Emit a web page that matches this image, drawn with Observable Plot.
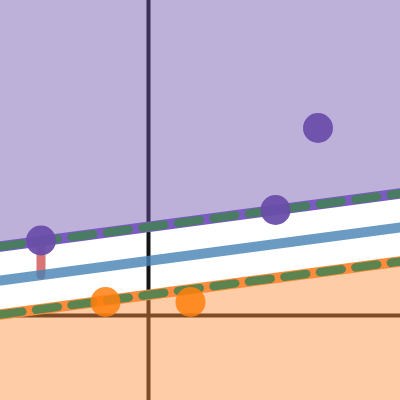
<!DOCTYPE html>
<html>
<head>
<meta charset="utf-8">
<script src="https://cdn.jsdelivr.net/npm/d3@7"></script>
<script src="https://cdn.jsdelivr.net/npm/@observablehq/plot@0.6"></script>
<style>
  html, body { margin: 0; padding: 0; background: white; overflow: hidden; }
  #chart svg { display: block; }
</style>
</head>
<body>
<div id="chart"></div>
<script>
// Domains
const xDomain = [-2.96, 5.04];
const yDomain = [-1.7, 6.3];

// Decision boundary and margins, read at the left and right edges
const xEnds = [-2.96, 5.04];
const upperY = [1.38, 2.44];
const centerY = [0.70, 1.76];
const lowerY = [0.02, 1.08];

// Points
const purpleX = [-2.15, 2.54, 3.39];
const purpleY = [1.50, 2.11, 3.75];
const orangeX = [-0.86, 0.84];
const orangeY = [0.27, 0.27];

// Slack segment (from point to boundary)
const slackX = [-2.15];
const slackY1 = [1.50];
const slackY2 = [0.80];

const lines = xEnds.map((x, i) => ({x, upper: upperY[i], center: centerY[i], lower: lowerY[i], top: yDomain[1], bottom: yDomain[0]}));
const purplePts = purpleX.map((x, i) => ({x, y: purpleY[i]}));
const orangePts = orangeX.map((x, i) => ({x, y: orangeY[i]}));
const slack = slackX.map((x, i) => ({x, y1: slackY1[i], y2: slackY2[i]}));

const dash = "22,13.8";

const chart = Plot.plot({
  width: 400,
  height: 400,
  margin: 0,
  x: {domain: xDomain, axis: null},
  y: {domain: yDomain, axis: null},
  marks: [
    Plot.ruleX([0], {stroke: "#141414", strokeWidth: 4}),
    Plot.ruleY([0], {stroke: "#141414", strokeWidth: 4}),
    Plot.areaY(lines, {x: "x", y1: "upper", y2: "top", fill: "#6f54ae", fillOpacity: 0.455}),
    Plot.areaY(lines, {x: "x", y1: "bottom", y2: "lower", fill: "#fd8d3c", fillOpacity: 0.45}),
    Plot.ruleX(slack, {x: "x", y1: "y1", y2: "y2", stroke: "#c83c3c", strokeOpacity: 0.7, strokeWidth: 9, strokeLinecap: "round"}),
    Plot.line(lines, {x: "x", y: "center", stroke: "steelblue", strokeOpacity: 0.8, strokeWidth: 10}),
    Plot.line(lines, {x: "x", y: "upper", stroke: "#7b5bc2", strokeWidth: 10.5}),
    Plot.line(lines, {x: "x", y: "lower", stroke: "#fd8d3c", strokeWidth: 10.5}),
    Plot.line(lines, {x: "x", y: "upper", stroke: "#418351", strokeOpacity: 0.85, strokeWidth: 8.5, strokeDasharray: dash, strokeLinecap: "round"}),
    Plot.line(lines, {x: "x", y: "lower", stroke: "#418351", strokeOpacity: 0.85, strokeWidth: 8.5, strokeDasharray: dash, strokeLinecap: "round"}),
    Plot.dot(purplePts, {x: "x", y: "y", r: 15, fill: "#6a4eaa", fillOpacity: 0.95}),
    Plot.dot(orangePts, {x: "x", y: "y", r: 15, fill: "#ff7f0e", fillOpacity: 0.85})
  ]
});
document.getElementById("chart").append(chart);
</script>
</body>
</html>
